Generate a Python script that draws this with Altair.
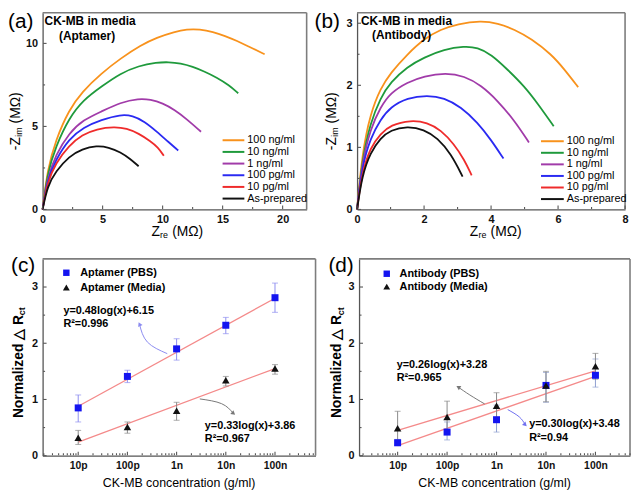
import altair as alt
import pandas as pd

FONT = "Liberation Sans"
AX = "#555555"
FRAME = "#7d7d7d"

# ---------------- data ----------------
series_labels = ["100 ng/ml", "10 ng/ml", "1 ng/ml", "100 pg/ml", "10 pg/ml", "As-prepared"]
series_colors = ["#F8921C", "#1F9A3C", "#A13BA9", "#2A2AF2", "#EF2B2B", "#111111"]

# Panel (a) aptamer Nyquist (Zre, -Zim) in MOhm
a_100ng_x = [0, 0.4, 1.1, 2.2, 3.3, 4.9, 6.5, 8.2, 9.5, 11, 12, 13.1, 14.2, 15.2, 16.2, 17.2, 18.5]
a_100ng_y = [0, 2.4, 4.2, 6.0, 7.1, 8.2, 9.1, 9.9, 10.35, 10.7, 10.85, 10.85, 10.7, 10.45, 10.15, 9.8, 9.35]
a_10ng_x = [0, 0.4, 1.1, 2.2, 3.4, 4.9, 6.5, 8, 9.5, 10.5, 11.5, 12.5, 13.5, 14.5, 15.5, 16.3]
a_10ng_y = [0, 2.2, 3.8, 5.5, 6.6, 7.4, 8.2, 8.65, 8.85, 8.88, 8.8, 8.6, 8.3, 7.95, 7.5, 7.0]
a_1ng_x = [0, 0.4, 1.1, 2.2, 3.4, 4.9, 6.5, 8, 9, 10, 11, 12, 13.2]
a_1ng_y = [0, 1.9, 3.3, 4.6, 5.4, 5.9, 6.45, 6.68, 6.62, 6.4, 6.0, 5.45, 4.68]
a_100pg_x = [0, 0.4, 1.1, 2.2, 3.4, 4.9, 6.5, 7.5, 8.5, 9.5, 10.5, 11.3]
a_100pg_y = [0, 1.8, 3.0, 4.25, 4.95, 5.4, 5.72, 5.65, 5.3, 4.7, 4.05, 3.55]
a_10pg_x = [0, 0.4, 1.1, 2.2, 3.3, 4.5, 6, 7, 8, 9, 9.6, 10.1]
a_10pg_y = [0, 1.65, 2.8, 3.85, 4.5, 4.85, 4.98, 4.88, 4.58, 4.1, 3.75, 3.23]
a_prep_x = [0, 0.4, 1.1, 2.2, 3.3, 4.5, 5.5, 6.5, 7.3, 8.0]
a_prep_y = [0, 1.4, 2.3, 3.2, 3.65, 3.84, 3.75, 3.45, 3.05, 2.6]

# Panel (b) antibody Nyquist
b_100ng_x = [0, 0.15, 0.4, 0.7, 1, 1.5, 2, 2.5, 3, 3.7, 4.2, 4.7, 5.2, 5.8, 6.2, 6.6]
b_100ng_y = [0, 0.9, 1.55, 1.95, 2.2, 2.5, 2.75, 2.9, 2.99, 3.04, 3.0, 2.9, 2.75, 2.5, 2.25, 1.97]
b_10ng_x = [0, 0.15, 0.4, 0.7, 1, 1.5, 2, 2.6, 3.2, 3.6, 4.0, 4.5, 5.0, 5.4, 5.87]
b_10ng_y = [0, 0.8, 1.4, 1.8, 2.05, 2.3, 2.45, 2.58, 2.63, 2.61, 2.5, 2.25, 1.98, 1.7, 1.34]
b_1ng_x = [0, 0.15, 0.4, 0.7, 1, 1.5, 2, 2.65, 3.2, 3.7, 4.2, 4.7, 5.13]
b_1ng_y = [0, 0.75, 1.3, 1.65, 1.88, 2.05, 2.15, 2.2, 2.15, 2.0, 1.75, 1.43, 1.08]
b_100pg_x = [0, 0.15, 0.4, 0.7, 1, 1.5, 2.1, 2.6, 3.1, 3.6, 4.0, 4.37]
b_100pg_y = [0, 0.7, 1.15, 1.45, 1.65, 1.8, 1.84, 1.8, 1.65, 1.4, 1.12, 0.82]
b_10pg_x = [0, 0.15, 0.4, 0.7, 1, 1.6, 2.1, 2.5, 2.9, 3.2, 3.42]
b_10pg_y = [0, 0.6, 1.0, 1.22, 1.36, 1.44, 1.4, 1.28, 1.05, 0.8, 0.55]
b_prep_x = [0, 0.15, 0.4, 0.7, 1, 1.5, 2, 2.4, 2.8, 3.15]
b_prep_y = [0, 0.55, 0.92, 1.15, 1.28, 1.34, 1.29, 1.15, 0.9, 0.53]

# Panels (c), (d): calibration
conc = [1e-11, 1e-10, 1e-9, 1e-8, 1e-7]
conc_labels = ["10p", "100p", "1n", "10n", "100n"]
fit_x = [1e-11, 1e-7]

c_pbs = [0.85, 1.41, 1.90, 2.32, 2.81]
c_pbs_lo = [0.60, 1.30, 1.70, 2.17, 2.55]
c_pbs_hi = [1.08, 1.52, 2.08, 2.46, 3.07]
c_med = [0.32, 0.51, 0.80, 1.34, 1.55]
c_med_lo = [0.20, 0.40, 0.63, 1.24, 1.45]
c_med_hi = [0.45, 0.60, 0.95, 1.41, 1.62]
c_fit_pbs = [0.88, 2.80]
c_fit_med = [0.24, 1.55]

d_pbs = [0.23, 0.42, 0.64, 1.25, 1.43]
d_pbs_lo = [0.18, 0.28, 0.42, 0.95, 1.22]
d_pbs_hi = [0.29, 0.60, 0.90, 1.48, 1.72]
d_med = [0.49, 0.69, 0.89, 1.25, 1.59]
d_med_lo = [0.28, 0.42, 0.65, 0.96, 1.36]
d_med_hi = [0.79, 0.97, 1.12, 1.50, 1.82]
d_fit_pbs = [0.18, 1.41]
d_fit_med = [0.45, 1.51]

# ---------------- helpers ----------------
def one():
    return pd.DataFrame({"a": [0]})


def txt(s, x, y, size=11, weight="normal", align="left", baseline="middle", angle=0, color="black"):
    kw = dict(align=align, baseline=baseline, fontSize=size, fontWeight=weight, font=FONT, color=color)
    if angle:
        kw["angle"] = angle
    return alt.Chart(pd.DataFrame({"t": [s]})).mark_text(**kw).encode(
        text="t:N", x=alt.value(x), y=alt.value(y))


def frame(xdom, ydom, xs, xa, ys, ya):
    # top and right border of the plot box, placed on the scale limits
    top = pd.DataFrame({"x1": [xdom[0]], "x2": [xdom[1]], "y1": [ydom[1]]})
    right = pd.DataFrame({"x1": [xdom[1]], "y1": [ydom[0]], "y2": [ydom[1]]})
    return [
        alt.Chart(top).mark_rule(color=FRAME, strokeWidth=1.6).encode(
            x=alt.X("x1:Q", scale=xs, axis=xa), x2="x2:Q", y=alt.Y("y1:Q", scale=ys, axis=ya)),
        alt.Chart(right).mark_rule(color=FRAME, strokeWidth=1.6).encode(
            x=alt.X("x1:Q", scale=xs, axis=xa), y=alt.Y("y1:Q", scale=ys, axis=ya), y2="y2:Q"),
    ]


def mk_axis(values, size, label_expr=None, pad=3):
    kw = dict(values=values, title=None, grid=False, ticks=False, tickSize=0, domainColor=AX,
              domainWidth=1.3, labelFont=FONT, labelFontSize=size, labelFontWeight="bold",
              labelColor="#111111", labelPadding=pad, labelFlush=False, labelOverlap=False)
    if label_expr:
        kw["labelExpr"] = label_expr
    return alt.Axis(**kw)


def xticks(vals, xs, xa, H, L):
    return alt.Chart(pd.DataFrame({"v": vals})).mark_rule(color=AX, strokeWidth=1.1).encode(
        x=alt.X("v:Q", scale=xs, axis=xa), y=alt.value(H - 0.5), y2=alt.value(H - L))


def yticks(vals, ys, ya, L):
    return alt.Chart(pd.DataFrame({"v": vals})).mark_rule(color=AX, strokeWidth=1.1).encode(
        y=alt.Y("v:Q", scale=ys, axis=ya), x=alt.value(0.5), x2=alt.value(L))


def curves(xs_list, ys_list, xs, xa, ys, ya):
    rows = []
    for lab, xv, yv in zip(series_labels, xs_list, ys_list):
        for i, (x, y) in enumerate(zip(xv, yv)):
            rows.append({"s": lab, "i": i, "x": x, "y": y})
    return alt.Chart(pd.DataFrame(rows)).mark_line(strokeWidth=1.8, interpolate="basis").encode(
        x=alt.X("x:Q", scale=xs, axis=xa), y=alt.Y("y:Q", scale=ys, axis=ya),
        color=alt.Color("s:N", scale=alt.Scale(domain=series_labels, range=series_colors), legend=None),
        detail="s:N", order="i:Q")


def line_legend(x0, x1, xl, y0, step):
    out = []
    for k, (lab, col) in enumerate(zip(series_labels, series_colors)):
        y = y0 + k * step
        out.append(alt.Chart(one()).mark_rule(color=col, strokeWidth=2).encode(
            x=alt.value(x0), x2=alt.value(x1), y=alt.value(y)))
        out.append(txt(lab, xl, y, size=11))
    return out


def z_title_x(x, y):
    return [txt("Z", x, y, size=14), txt("re", x + 8.8, y + 3, size=9),
            txt("(MΩ)", x + 21, y, size=14)]


def z_title_y(x, ybot):
    return [txt("-Z", x, ybot, size=14, angle=270),
            txt("im", x + 3, ybot - 13.6, size=9, angle=270),
            txt("(MΩ)", x, ybot - 27, size=14, angle=270)]


def rct_title(x, ybot):
    return [txt("Normalized △ R", x, ybot, size=14, weight="bold", angle=270),
            txt("ct", x + 3.5, ybot - 104, size=9, weight="bold", angle=270)]


# ---------------- panel (a) ----------------
WA, WB, H1 = 267, 271, 199
xdom_a, ydom_a = [0, 22], [0, 11.85]
xs_a = alt.Scale(domain=xdom_a, nice=False, zero=False)
ys_a = alt.Scale(domain=ydom_a, nice=False, zero=False)
xa_a = mk_axis([0, 5, 10, 15, 20], 11, pad=4)
ya_a = mk_axis([0, 5, 10], 11, pad=5)

A = alt.layer(
    curves([a_100ng_x, a_10ng_x, a_1ng_x, a_100pg_x, a_10pg_x, a_prep_x],
           [a_100ng_y, a_10ng_y, a_1ng_y, a_100pg_y, a_10pg_y, a_prep_y], xs_a, xa_a, ys_a, ya_a),
    *frame(xdom_a, ydom_a, xs_a, xa_a, ys_a, ya_a),
    xticks([0, 5, 10, 15, 20], xs_a, xa_a, H1, 4),
    xticks([2.5, 7.5, 12.5, 17.5], xs_a, xa_a, H1, 2.5),
    yticks([0, 5, 10], ys_a, ya_a, 4),
    yticks([2.5, 7.5], ys_a, ya_a, 2.5),
    txt("CK-MB in media", 48, 8, size=12, weight="bold", align="center"),
    txt("(Aptamer)", 45, 24, size=12, weight="bold", align="center"),
    *line_legend(182, 204, 207, 129, 11.8),
    txt("(a)", -35, 9, size=21),
    *z_title_y(-27, 139),
    *z_title_x(110, H1 + 23),
).properties(width=WA, height=H1)

# ---------------- panel (b) ----------------
xdom_b, ydom_b = [0, 8], [0, 3.17]
xs_b = alt.Scale(domain=xdom_b, nice=False, zero=False)
ys_b = alt.Scale(domain=ydom_b, nice=False, zero=False)
xa_b = mk_axis([0, 2, 4, 6, 8], 11, pad=4)
ya_b = mk_axis([0, 1, 2, 3], 11, pad=5)

B = alt.layer(
    curves([b_100ng_x, b_10ng_x, b_1ng_x, b_100pg_x, b_10pg_x, b_prep_x],
           [b_100ng_y, b_10ng_y, b_1ng_y, b_100pg_y, b_10pg_y, b_prep_y], xs_b, xa_b, ys_b, ya_b),
    *frame(xdom_b, ydom_b, xs_b, xa_b, ys_b, ya_b),
    xticks([0, 2, 4, 6, 8], xs_b, xa_b, H1, 4),
    xticks([1, 3, 5, 7], xs_b, xa_b, H1, 2.5),
    yticks([0, 1, 2, 3], ys_b, ya_b, 4),
    yticks([0.5, 1.5, 2.5], ys_b, ya_b, 2.5),
    txt("CK-MB in media", 50, 8, size=12, weight="bold", align="center"),
    txt("(Antibody)", 45, 23, size=12, weight="bold", align="center"),
    *line_legend(186, 209, 212, 130, 11.7),
    txt("(b)", -43, 9, size=21),
    *z_title_y(-25, 139),
    *z_title_x(114, H1 + 23),
).properties(width=WB, height=H1)

# ---------------- panels (c), (d) ----------------
H2 = 199
label_expr = " : ".join(
    f"abs(log(datum.value)/LN10 - ({k})) < 0.01 ? '{lab}'" for k, lab in zip([-11, -10, -9, -8, -7], conc_labels)
) + " : ''"

minor_log = []
for e in range(-12, -6):
    for m in range(2, 10):
        minor_log.append(m * 10.0 ** e)


def calib_panel(W, dom, pbs, pbs_lo, pbs_hi, med, med_lo, med_hi, fit_pbs, fit_med,
                pbs_err_col, names, legend_pos, annots, arrows, plabel, ytitle_x):
    ydom = [0, 3.5]
    xs = alt.Scale(type="log", domain=dom, nice=False)
    ys = alt.Scale(domain=ydom, nice=False, zero=False)
    xa = mk_axis(conc, 10.5, label_expr=label_expr, pad=5)
    ya = mk_axis([0, 1, 2, 3], 11, pad=5)
    minor = [v for v in minor_log if dom[0] <= v <= dom[1]]

    df = pd.DataFrame({"c": conc, "pbs": pbs, "plo": pbs_lo, "phi": pbs_hi,
                       "med": med, "mlo": med_lo, "mhi": med_hi})
    fit = pd.DataFrame({"c": fit_x, "fp": fit_pbs, "fm": fit_med})
    X = alt.X("c:Q", scale=xs, axis=xa)

    layers = [
        alt.Chart(fit).mark_line(color="#F48A8A", strokeWidth=1.3).encode(
            x=X, y=alt.Y("fp:Q", scale=ys, axis=ya)),
        alt.Chart(fit).mark_line(color="#F48A8A", strokeWidth=1.3).encode(
            x=X, y=alt.Y("fm:Q", scale=ys, axis=ya)),
    ] + frame(dom, ydom, xs, xa, ys, ya) + [
        xticks(conc, xs, xa, H2, 4),
        xticks(minor, xs, xa, H2, 2.5),
        yticks([0, 1, 2, 3], ys, ya, 4),
        yticks([0.5, 1.5, 2.5], ys, ya, 2.5),
    ]
    for lo, hi, col in (("plo", "phi", pbs_err_col), ("mlo", "mhi", "#8a8a8a")):
        layers.append(alt.Chart(df).mark_rule(color=col, strokeWidth=1).encode(
            x=X, y=alt.Y(f"{lo}:Q", scale=ys, axis=ya), y2=f"{hi}:Q"))
        for f in (lo, hi):
            layers.append(alt.Chart(df).mark_tick(color=col, orient="horizontal", size=6, thickness=1).encode(
                x=X, y=alt.Y(f"{f}:Q", scale=ys, axis=ya)))
    layers.append(alt.Chart(df).mark_point(shape="square", filled=True, size=50, color="#1414F0", opacity=1).encode(
        x=X, y=alt.Y("pbs:Q", scale=ys, axis=ya)))
    layers.append(alt.Chart(df).mark_point(shape="triangle-up", filled=True, size=58, color="#111111", opacity=1).encode(
        x=X, y=alt.Y("med:Q", scale=ys, axis=ya)))

    # arrows
    for (axs, ays, col, ang) in arrows:
        adf = pd.DataFrame({"i": list(range(len(axs))), "c": axs, "v": ays})
        layers.append(alt.Chart(adf).mark_line(interpolate="natural", color=col, strokeWidth=1).encode(
            x=X, y=alt.Y("v:Q", scale=ys, axis=ya), order="i:Q"))
        layers.append(alt.Chart(adf.tail(1)).mark_point(shape="triangle-up", filled=True, size=24, angle=ang,
                                                        color=col, opacity=1).encode(
            x=X, y=alt.Y("v:Q", scale=ys, axis=ya)))

    # legend
    sx, sy1, sy2, lx = legend_pos
    layers.append(alt.Chart(one()).mark_point(shape="square", filled=True, size=42, color="#1414F0", opacity=1).encode(
        x=alt.value(sx), y=alt.value(sy1)))
    layers.append(alt.Chart(one()).mark_point(shape="triangle-up", filled=True, size=48, color="#111111", opacity=1).encode(
        x=alt.value(sx), y=alt.value(sy2)))
    layers.append(txt(names[0], lx, sy1, size=11, weight="bold"))
    layers.append(txt(names[1], lx, sy2, size=11, weight="bold"))

    for s, x, y in annots:
        layers.append(txt(s, x, y, size=11, weight="bold"))

    layers.append(txt(plabel[0], plabel[1], plabel[2], size=21))
    layers += rct_title(ytitle_x, 161)
    layers.append(txt("CK-MB concentration (g/ml)", W / 2, H2 + 28, size=12.5, align="center"))
    return alt.layer(*layers).properties(width=W, height=H2)


C = calib_panel(
    276, [1.89e-12, 6.67e-7], c_pbs, c_pbs_lo, c_pbs_hi, c_med, c_med_lo, c_med_hi, c_fit_pbs, c_fit_med,
    "#8F8FF0", ["Aptamer (PBS)", "Aptamer (Media)"], (24, 14, 29, 38),
    [("y=0.48log(x)+6.15", 21, 53), ("R²=0.996", 21, 66),
     ("y=0.33log(x)+3.86", 164, 169), ("R²=0.967", 164, 182)],
    [([10 ** -9.19, 10 ** -9.593, 10 ** -9.754], [1.815, 2.02, 2.34], "#8C8CF0", 336),
     ([10 ** -8.528, 10 ** -8.085, 10 ** -7.844], [1.01, 0.925, 0.75], "#777777", 130)],
    ("(c)", -32, 7), -24)

D = calib_panel(
    274, [1.66e-12, 5.0e-7], d_pbs, d_pbs_lo, d_pbs_hi, d_med, d_med_lo, d_med_hi, d_fit_pbs, d_fit_med,
    "#8f9fd0", ["Antibody (PBS)", "Antibody (Media)"], (28, 15, 28, 41),
    [("y=0.26log(x)+3.28", 38, 107), ("R²=0.965", 38, 120),
     ("y=0.30log(x)+3.48", 172, 167), ("R²=0.94", 172, 181)],
    [([10 ** -9.24, 10 ** -9.54, 10 ** -9.774], [0.92, 1.08, 1.22], "#777777", 300),
     ([10 ** -8.774, 10 ** -8.54, 10 ** -8.42], [0.82, 0.69, 0.55], "#6f6ff0", 135)],
    ("(d)", -31, 7), -22)

chart = alt.vconcat(
    alt.hconcat(A, B, spacing=7),
    alt.hconcat(C, D, spacing=12),
    spacing=15,
).properties(padding=0).configure_view(strokeWidth=0)

chart.save("out.html", embed_options={"renderer": "svg", "actions": False})
